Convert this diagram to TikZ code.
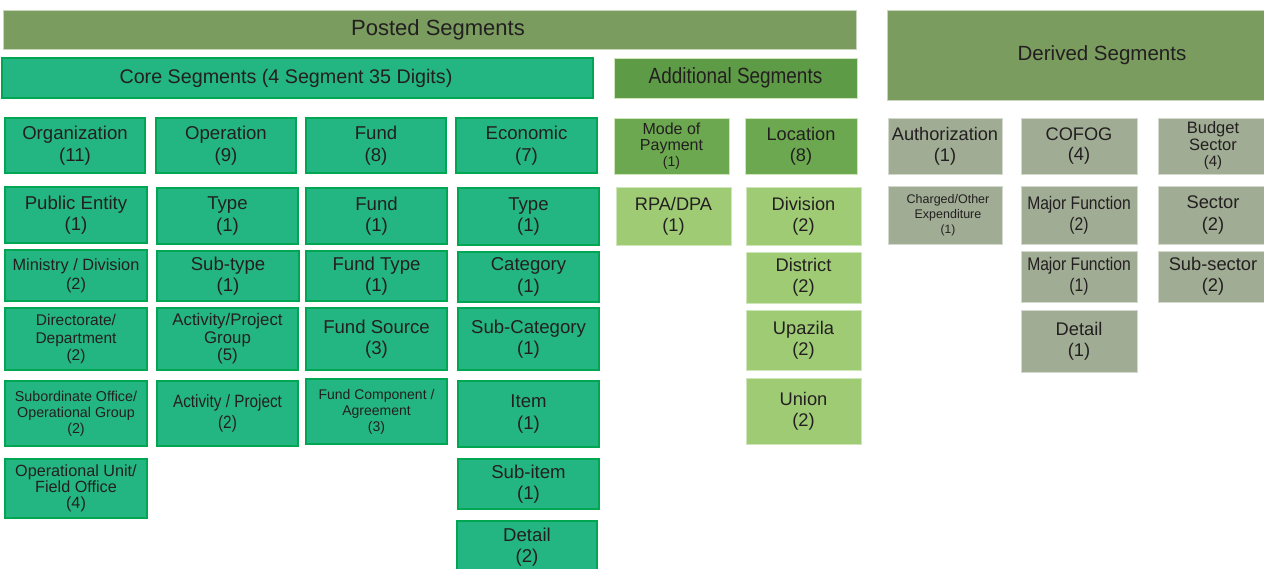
\documentclass[tikz,border=0pt]{standalone}
\usepackage{fontspec}
\setmainfont{Liberation Sans}
\newfontfamily\narrowf{Liberation Sans}[FakeStretch=0.86]
\definecolor{postg}{HTML}{7A9C5F}
\definecolor{postb}{HTML}{C9D6BD}
\definecolor{coreg}{HTML}{23B682}
\definecolor{coreb}{HTML}{00A651}
\definecolor{addh}{HTML}{5E9B47}
\definecolor{addm}{HTML}{6BA84F}
\definecolor{addl}{HTML}{9FCB75}
\definecolor{addlb}{HTML}{CFE5BA}
\definecolor{derg}{HTML}{A0AC94}
\definecolor{derb}{HTML}{D3D9CD}
\definecolor{txt}{HTML}{231F20}
\newcommand\fss[2]{\fontsize{#1}{0}\selectfont\baselineskip=#2\dimexpr#1pt\relax}
\newcommand\fs[1]{\fss{#1}{1.15}}
\newcommand\bx[7]{\node[#6, minimum width=#4pt, minimum height=#5pt] (#1) at ({#2+#4/2},{#3+#5/2}) {#7};}
\tikzset{
  cell/.style={inner sep=0pt, outer sep=0pt, align=center, text=txt},
  posted/.style={cell, fill=postg, draw=postb, line width=0.8pt},
  core/.style={cell, fill=coreg, draw=coreb, line width=1.8pt},
  addhead/.style={cell, fill=addh, draw=addlb, line width=0.6pt},
  addmid/.style={cell, fill=addm, draw=addlb, line width=0.6pt},
  addlow/.style={cell, fill=addl, draw=addlb, line width=0.8pt},
  derived/.style={cell, fill=derg, draw=derb, line width=0.8pt},
}
\begin{document}
\begin{tikzpicture}[x=1pt,y=-1pt]
\useasboundingbox (0,0) rectangle (1264,568);
% headers
\bx{posted}{3}{10}{853}{39}{posted,font=\fs{22}}{\hspace*{17pt}Posted Segments}
\bx{derivedh}{887}{10}{430}{90}{posted,font=\fs{20.5}}{Derived Segments}
\bx{coreh}{2}{58}{591}{40}{core,font=\fs{19.7}}{\hspace*{-23pt}Core Segments (4 Segment 35 Digits)}
\bx{addhd}{614}{58}{243}{40}{addhead,font=\narrowf\fs{22}}{Additional Segments}
% row 1
\bx{org}{5}{118}{140}{55}{core,font=\fs{18.6}}{Organization\\(11)}
\bx{oper}{156}{118}{140}{55}{core,font=\fs{18.6}}{Operation\\(9)}
\bx{fund}{306}{118}{140}{55}{core,font=\fs{18.6}}{Fund\\(8)}
\bx{econ}{456}{118}{141}{55}{core,font=\fs{18.6}}{Economic\\(7)}
\bx{mop}{614}{118}{115}{56}{addmid,font=\fss{16}{1.0}}{Mode of\\Payment\\{\fss{14}{1.0}(1)}}
\bx{loc}{745}{118}{112}{56}{addmid,font=\fs{18.2}}{Location\\(8)}
\bx{auth}{888}{118}{114}{56}{derived,font=\fs{18.2}}{Authorization\\(1)}
\bx{cofog}{1021}{118}{116}{56}{derived,font=\fs{18.2}}{COFOG\\(4)}
\bx{bsec}{1158}{118}{110}{56}{derived,font=\fss{16.5}{1.0}}{Budget\\Sector\\{\fss{15}{1.0}(4)}}
% row 2
\bx{pe}{5}{187}{142}{56}{core,font=\fs{18.6}}{Public Entity\\(1)}
\bx{otype}{157}{188}{141}{56}{core,font=\fs{18.6}}{Type\\(1)}
\bx{ffund}{306}{188}{141}{56}{core,font=\fs{18.6}}{Fund\\(1)}
\bx{etype}{458}{188}{141}{57}{core,font=\fs{18.6}}{Type\\(1)}
\bx{rpa}{616}{187}{115}{58}{addlow,font=\fs{18.2}}{RPA/DPA\\(1)}
\bx{div}{746}{187}{115}{58}{addlow,font=\fs{18.2}}{Division\\(2)}
\bx{chg}{888}{186}{114}{58}{derived,font=\fss{12.5}{1.2}}{\hspace*{6pt}Charged/Other\\\hspace*{6pt}Expenditure\\{\fss{12}{1.2}\hspace*{6pt}(1)}}
\bx{mftwo}{1021}{186}{116}{58}{derived,font=\narrowf\fs{18.2}}{Major Function\\(2)}
\bx{sect}{1158}{186}{110}{58}{derived,font=\fs{18.3}}{Sector\\(2)}
% row 3
\bx{minis}{5}{250}{142}{51}{core,font=\fs{16.3}}{Ministry / Division\\(2)}
\bx{subt}{157}{251}{142}{50}{core,font=\fs{18.6}}{Sub-type\\(1)}
\bx{ftype}{306}{251}{141}{50}{core,font=\fs{18.6}}{Fund Type\\(1)}
\bx{cat}{458}{252}{141}{50}{core,font=\fs{18.6}}{Category\\(1)}
\bx{dist}{746}{252}{115}{51}{addlow,font=\fs{18.3}}{District\\(2)}
\bx{mfone}{1021}{251}{116}{51}{derived,font=\narrowf\fs{18.2}}{Major Function\\(1)}
\bx{subsec}{1158}{251}{110}{51}{derived,font=\fs{18.3}}{Sub-sector\\(2)}
% row 4
\bx{dir}{5}{308}{142}{62}{core,font=\fss{15.5}{1.12}}{Directorate/\\Department\\(2)}
\bx{apg}{157}{308}{141}{62}{core,font=\fss{16.8}{1.05}}{Activity/Project\\Group\\(5)}
\bx{fsrc}{306}{308}{141}{62}{core,font=\fs{18.6}}{Fund Source\\(3)}
\bx{subcat}{458}{308}{141}{62}{core,font=\fs{18.6}}{Sub-Category\\(1)}
\bx{upa}{746}{310}{115}{60}{addlow,font=\fs{18.3}}{Upazila\\(2)}
\bx{detone}{1021}{310}{116}{62}{derived,font=\fs{18.3}}{Detail\\(1)}
% row 5
\bx{subo}{5}{381}{142}{65}{core,font=\fss{14.3}{1.12}}{Subordinate Office/\\Operational Group\\(2)}
\bx{ap}{157}{381}{141}{65}{core,font=\narrowf\fs{17.8}}{Activity / Project\\(2)}
\bx{fcomp}{306}{379}{141}{65}{core,font=\fs{14}}{Fund Component /\\Agreement\\(3)}
\bx{item}{458}{381}{141}{66}{core,font=\fs{18.6}}{Item\\(1)}
\bx{union}{746}{378}{115}{66}{addlow,font=\fs{18.3}}{Union\\(2)}
% row 6
\bx{opu}{5}{459}{142}{59}{core,font=\fss{16.2}{1.0}}{Operational Unit/\\Field Office\\(4)}
\bx{subitem}{458}{459}{141}{50}{core,font=\fs{18.6}}{Sub-item\\(1)}
\bx{dettwo}{457}{521}{140}{52}{core,font=\fs{18.6}}{Detail\\(2)}
\end{tikzpicture}
\end{document}
